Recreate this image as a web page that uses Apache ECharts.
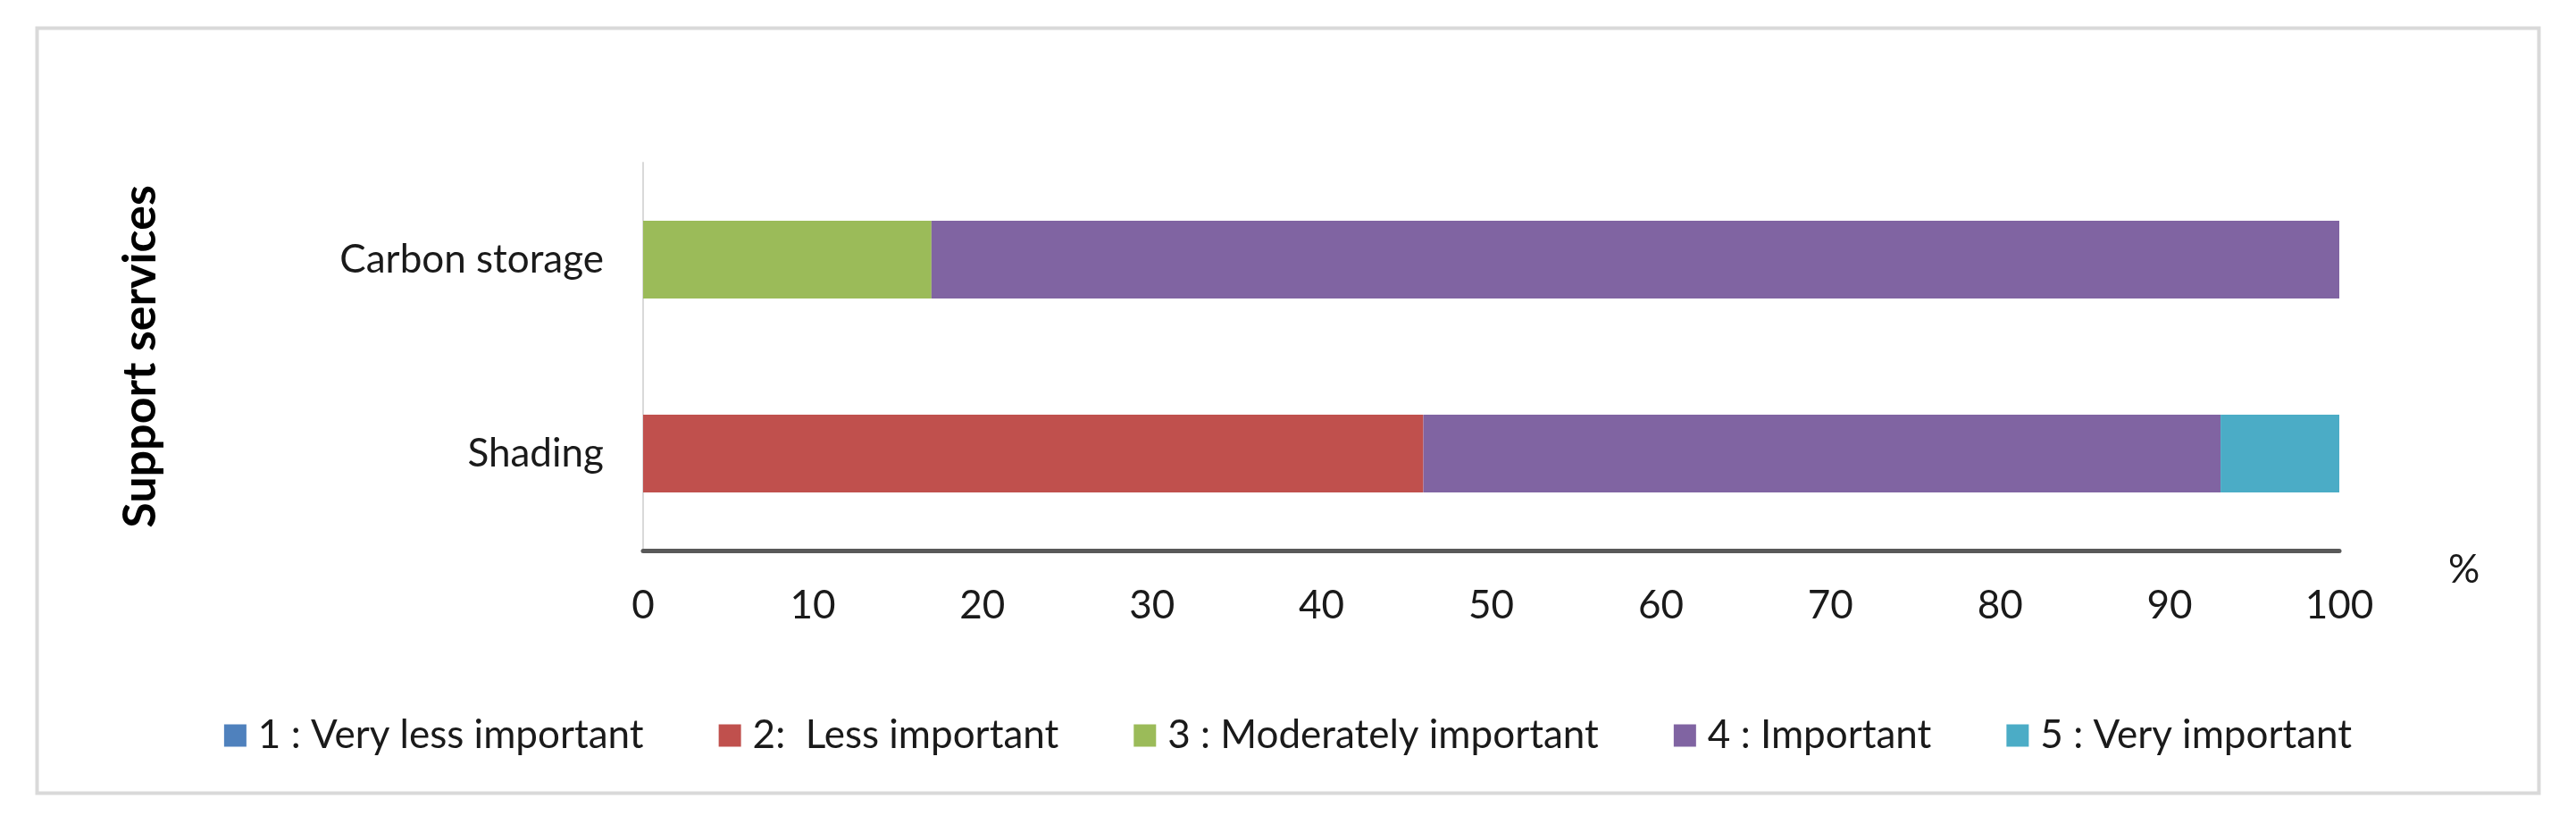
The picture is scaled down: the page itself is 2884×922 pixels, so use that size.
<!DOCTYPE html>
<html>
<head>
<meta charset="utf-8">
<script src="https://cdn.jsdelivr.net/npm/echarts@6/dist/echarts.min.js"></script>
<style>
  html, body { margin: 0; padding: 0; background: #ffffff; }
  #chart { width: 2884px; height: 922px; }
</style>
</head>
<body>
<div id="chart"></div>
<script>
// ---- data ----
const categories = ['Shading', 'Carbon storage'];
const seriesNames = ['1 : Very less important', '2:  Less important', '3 : Moderately important', '4 : Important', '5 : Very important'];
const veryLessImportant = [0, 0];
const lessImportant = [46, 0];
const moderatelyImportant = [0, 17];
const important = [47, 83];
const veryImportant = [7, 0];
const xTicks = [0, 10, 20, 30, 40, 50, 60, 70, 80, 90, 100];

const colors = ['#4f81bd', '#c0504d', '#9bbb59', '#8064a2', '#4bacc6'];
const valueSets = [veryLessImportant, lessImportant, moderatelyImportant, important, veryImportant];
const FONT = 'Lato';

const chart = echarts.init(document.getElementById('chart'), null, { renderer: 'canvas' });

const option = {
  backgroundColor: '#ffffff',
  animation: false,
  graphic: [{
    type: 'rect',
    left: 39, top: 29,
    shape: { width: 2801, height: 856 },
    style: { fill: 'none', stroke: '#d9d9d9', lineWidth: 4 },
    z: -1
  }],
  grid: { left: 720, right: 265, top: 182, bottom: 306, containLabel: false },
  legend: {
    data: seriesNames,
    left: 'center',
    top: 796,
    icon: 'rect',
    itemWidth: 25,
    itemHeight: 25,
    itemGap: 84,
    textStyle: { fontFamily: FONT, fontSize: 44, color: '#1a1a1a', padding: [0, 0, 0, 8] }
  },
  xAxis: {
    type: 'value',
    min: xTicks[0],
    max: xTicks[xTicks.length - 1],
    interval: xTicks[1] - xTicks[0],
    name: '%',
    nameLocation: 'end',
    nameGap: 122,
    nameTextStyle: { fontFamily: FONT, fontSize: 44, color: '#1a1a1a', verticalAlign: 'top', padding: [0, 0, 0, 0] },
    axisLine: { show: true, lineStyle: { color: '#595959', width: 5 } },
    axisTick: { show: false },
    splitLine: { show: false },
    axisLabel: { fontFamily: FONT, fontSize: 44, color: '#1a1a1a', margin: 40 }
  },
  yAxis: {
    type: 'category',
    data: categories,
    name: 'Support services',
    nameLocation: 'middle',
    nameRotate: 90,
    nameGap: 537,
    nameTextStyle: { fontFamily: FONT, fontSize: 52, fontWeight: 'bold', color: '#000000' },
    axisLine: { show: true, lineStyle: { color: '#d9d9d9', width: 2 } },
    axisTick: { show: false },
    axisLabel: { fontFamily: FONT, fontSize: 44, color: '#1a1a1a', margin: 44 }
  },
  series: seriesNames.map((name, i) => ({
    name: name,
    type: 'bar',
    stack: 'total',
    barWidth: '40%',
    data: valueSets[i],
    itemStyle: { color: colors[i] }
  }))
};

chart.setOption(option);
</script>
</body>
</html>
